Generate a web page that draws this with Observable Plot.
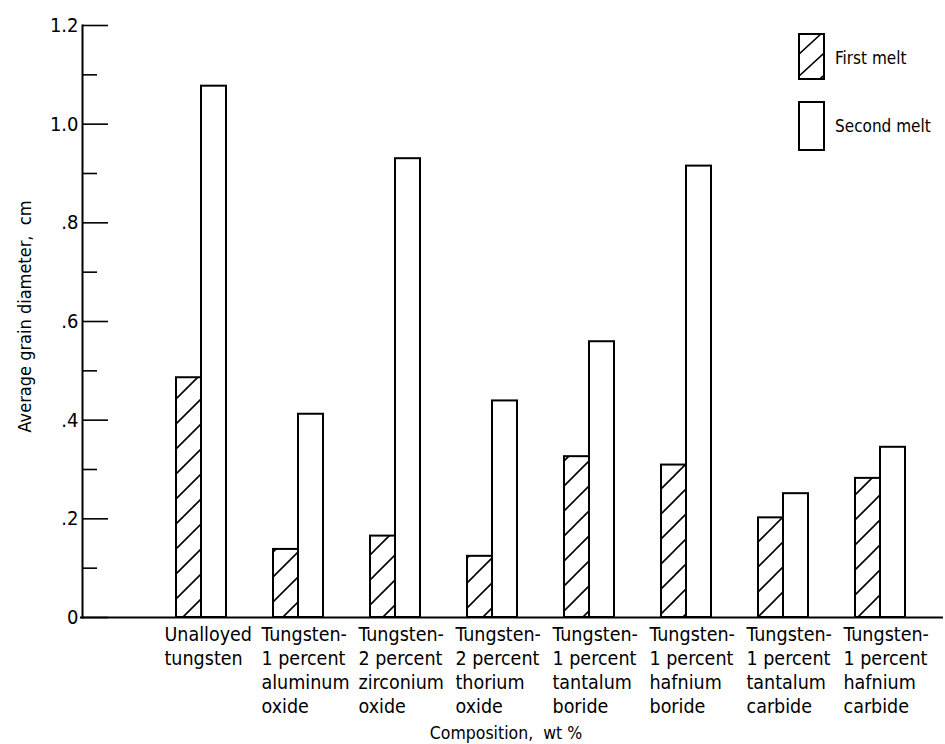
<!DOCTYPE html>
<html><head><meta charset="utf-8">
<script src="https://cdn.jsdelivr.net/npm/d3@7"></script>
<script src="https://cdn.jsdelivr.net/npm/@observablehq/plot@0.6"></script>
<style>
body{margin:0;background:#fff;}
#wrap{position:relative;width:945px;height:744px;font-family:"DejaVu Sans Condensed","DejaVu Sans",sans-serif;font-stretch:condensed;color:#000;}
.leg{position:absolute;font-size:17px;white-space:nowrap;}
</style></head><body><div id="wrap"></div>
<script>
const categories = ["Unalloyed tungsten","Al2O3","ZrO2","ThO2","TaB","HfB","TaC","HfC"];
const categoryLabels = [
  "Unalloyed\ntungsten",
  "Tungsten-\n1 percent\naluminum\noxide",
  "Tungsten-\n2 percent\nzirconium\noxide",
  "Tungsten-\n2 percent\nthorium\noxide",
  "Tungsten-\n1 percent\ntantalum\nboride",
  "Tungsten-\n1 percent\nhafnium\nboride",
  "Tungsten-\n1 percent\ntantalum\ncarbide",
  "Tungsten-\n1 percent\nhafnium\ncarbide"
];
const series = ["First melt","Second melt"];
const firstMelt  = [0.486, 0.138, 0.165, 0.124, 0.326, 0.309, 0.202, 0.282];
const secondMelt = [1.077, 0.412, 0.930, 0.439, 0.559, 0.915, 0.251, 0.345];
const yMajorTicks = [0, 0.2, 0.4, 0.6, 0.8, 1.0, 1.2];
const yTickLabels = ["0", ".2", ".4", ".6", ".8", "1.0", "1.2"];
const yMinorTicks = [0.1, 0.3, 0.5, 0.7, 0.9, 1.1];
const yTitle = "Average grain diameter,  cm";
const xTitle = "Composition,  wt %";

const rows = categories.flatMap((c, i) => [
  {category: c, melt: series[0], value: firstMelt[i]},
  {category: c, melt: series[1], value: secondMelt[i]}
]);
const labelOf = new Map(categories.map((c, i) => [c, categoryLabels[i]]));

const W = 945, H = 744, ML = 82, MR = 2, MT = 25, MB = 127;
const frameW = W - ML - MR;
const font = '"DejaVu Sans Condensed","DejaVu Sans",sans-serif';

const chart = Plot.plot({
  width: W, height: H,
  marginLeft: ML, marginRight: MR, marginTop: MT, marginBottom: MB,
  style: {fontFamily: font, fontStretch: "condensed", fontSize: "19px", color: "#000", background: "#fff"},
  x: {domain: categories, range: [176, 905], paddingInner: 47/97, paddingOuter: 0, align: 0, axis: null},
  y: {domain: [0, 1.2], axis: null},
  marks: [
    Plot.barY(rows.filter(d => d.melt === series[0]), {x: "category", y1: 0, y2: "value", fill: "url(#hatch)", stroke: "#000", strokeWidth: 2, insetRight: 25}),
    Plot.barY(rows.filter(d => d.melt === series[1]), {x: "category", y1: 0, y2: "value", fill: "#fff", stroke: "#000", strokeWidth: 2, insetLeft: 25}),
    Plot.tickY(yMajorTicks, {y: d => d, stroke: "#000", strokeWidth: 1.6, insetRight: frameW - 26}),
    Plot.tickY(yMinorTicks, {y: d => d, stroke: "#000", strokeWidth: 1.6, insetRight: frameW - 15}),
    Plot.ruleY([0], {stroke: "#000", strokeWidth: 2, insetLeft: -2}),
    Plot.frame({anchor: "left", stroke: "#000", strokeWidth: 2}),
    Plot.axisY(yMajorTicks, {label: null, tickSize: 0, tickPadding: 4, fontSize: 20, tickFormat: d => yTickLabels[yMajorTicks.indexOf(d)]}),
    Plot.text(categories, {x: d => d, text: d => labelOf.get(d), frameAnchor: "bottom", textAnchor: "start", lineAnchor: "top", dx: -37, dy: 6, lineHeight: 1.24, fontSize: 19.5}),
    Plot.text([yTitle], {frameAnchor: "left", textAnchor: "middle", rotate: -90, dx: -57, dy: -5, fontSize: 18}),
    Plot.text([xTitle], {frameAnchor: "bottom", textAnchor: "middle", lineAnchor: "middle", dx: -7, dy: 116, fontSize: 17.5})
  ]
});

d3.select(chart).insert("defs", ":first-child").html(
  '<pattern id="hatch" patternUnits="userSpaceOnUse" width="25" height="25">' +
  '<rect width="25" height="25" fill="#fff"/>' +
  '<path d="M-5,5L5,-5M0,25L25,0M20,30L30,20" stroke="#000" stroke-width="1.6"/>' +
  '</pattern>'
);

const wrap = document.getElementById("wrap");
wrap.appendChild(chart);

// legend
const legendItems = [
  {label: series[0], fill: "url(#hatchL)", top: 35, h: 45, textTop: 48},
  {label: series[1], fill: "#fff", top: 103, h: 48, textTop: 116}
];
legendItems.forEach((it, i) => {
  const box = document.createElementNS("http://www.w3.org/2000/svg", "svg");
  box.setAttribute("width", 28); box.setAttribute("height", it.h + 4);
  box.style.position = "absolute"; box.style.left = "798px"; box.style.top = (it.top - 2) + "px";
  box.innerHTML = (i === 0 ? '<defs><pattern id="hatchL" patternUnits="userSpaceOnUse" width="24" height="22"><rect width="24" height="22" fill="#fff"/><path d="M-4,4L4,-4M0,22L24,0M20,26L28,18" stroke="#000" stroke-width="1.6"/></pattern></defs>' : '') +
    `<rect x="1" y="1" width="25" height="${it.h}" fill="${it.fill}" stroke="#000" stroke-width="2"/>`;
  wrap.appendChild(box);
  const t = document.createElement("div");
  t.className = "leg"; t.textContent = it.label;
  t.style.left = "835px"; t.style.top = it.textTop + "px";
  wrap.appendChild(t);
});
</script>
</body></html>
